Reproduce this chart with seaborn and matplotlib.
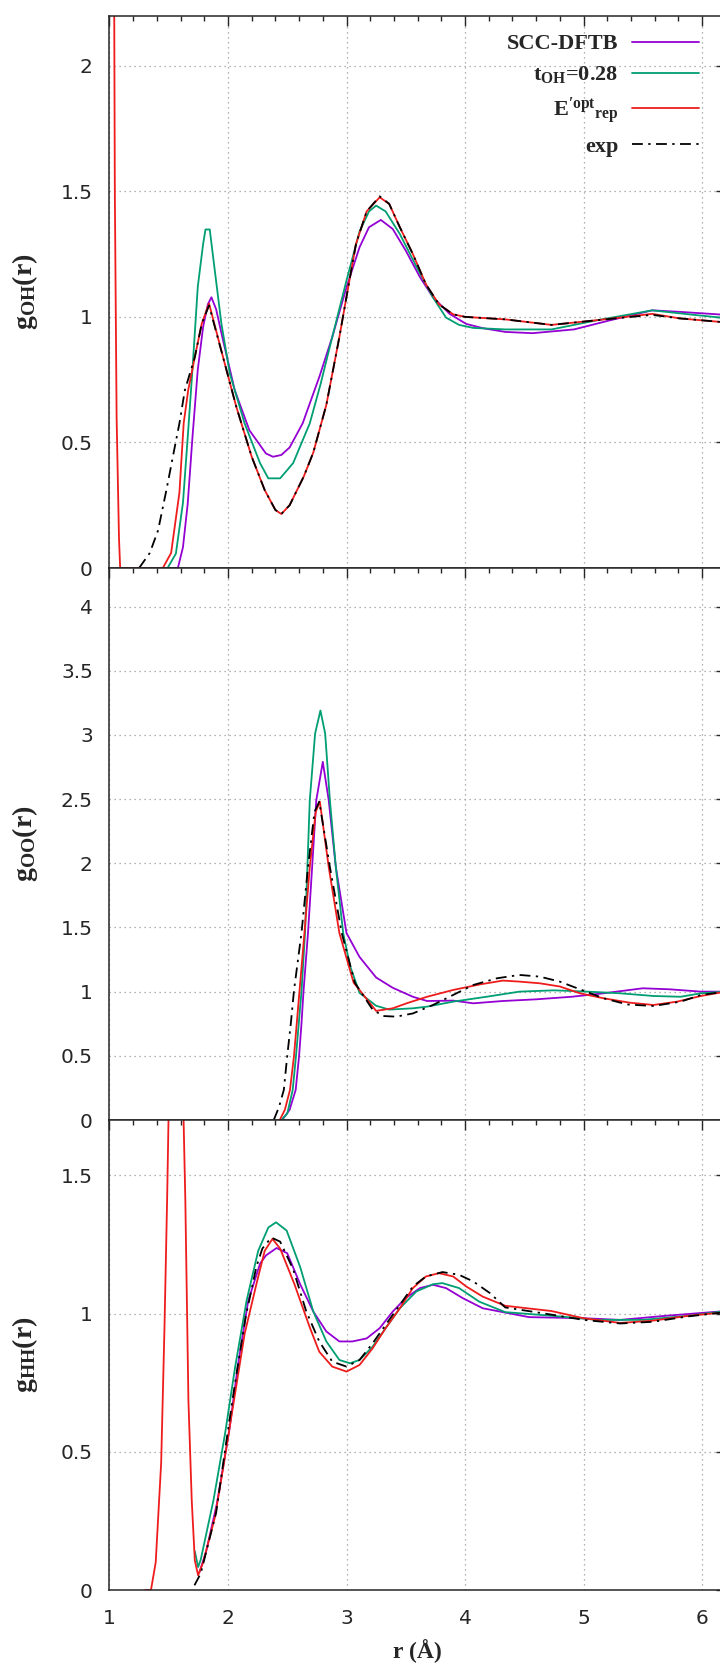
import numpy as np
import seaborn as sns
import matplotlib
matplotlib.use("Agg")
import matplotlib.pyplot as plt
from matplotlib.ticker import MultipleLocator, FuncFormatter

# g_OH(r) curves
oh_r_scc = [1.3, 1.5, 1.577, 1.62, 1.66, 1.70, 1.745, 1.79, 1.83, 1.86, 1.90, 1.958, 2.057, 2.18, 2.32, 2.38, 2.45,
            2.52, 2.63, 2.69, 2.77, 2.88, 3.0, 3.11, 3.19, 3.29, 3.39, 3.5, 3.62, 3.73, 3.87, 4.01, 4.15, 4.34, 4.57,
            4.92, 5.23, 5.58, 5.81, 6.2]
oh_g_scc = [0, 0, 0, .083, .256, .52, .79, .96, 1.05, 1.078, 1.03, .907, .708, .549, .456, .443, .45,
            .48, .576, .655, .76, .92, 1.118, 1.277, 1.357, 1.386, 1.35, 1.264, 1.158, 1.078, 1.012, .972, .955, .94, .935,
            .95, .987, 1.026, 1.02, 1.008]
oh_r_t = [1.3, 1.49, 1.56, 1.62, 1.66, 1.70, 1.745, 1.79, 1.81, 1.846, 1.874, 1.944, 2.015, 2.14, 2.27, 2.34, 2.44,
          2.55, 2.69, 2.78, 2.88, 3.0, 3.11, 3.19, 3.25, 3.33, 3.45, 3.59, 3.73, 3.84, 3.95, 4.07, 4.34, 4.73,
          5.12, 5.58, 5.89, 6.2]
oh_g_t = [0, 0, .057, .26, .52, .79, 1.12, 1.29, 1.348, 1.348, 1.24, .974, .775, .576, .418, .357, .357,
          .418, .576, .73, .92, 1.145, 1.34, 1.42, 1.443, 1.42, 1.33, 1.2, 1.077, .997, .968, .956, .95, .95,
          .987, 1.026, 1.01, .995]
oh_r_opt = [1.02, 1.04, 1.045, 1.06, 1.08, 1.09, 1.45, 1.52, 1.59, 1.626, 1.664, 1.72, 1.779, 1.84, 1.958, 2.07, 2.2,
            2.31, 2.40, 2.45, 2.52, 2.64, 2.72, 2.83, 2.94, 3.0, 3.08, 3.17, 3.28, 3.36, 3.45, 3.56, 3.67, 3.78, 3.9,
            4.0, 4.34, 4.73, 5.12, 5.58, 5.81, 6.2]
oh_g_opt = [3.0, 2.2, 1.5, .6, .12, 0, 0, .06, .3, .576, .708, .84, .974, 1.053, .84, .642, .443,
            .31, .231, .215, .25, .365, .46, .65, .92, 1.08, 1.29, 1.42, 1.476, 1.45, 1.357, 1.25, 1.13, 1.05, 1.01,
            1.0, .99, .968, .987, 1.012, .994, .978]
oh_r_exp = [1.25, 1.34, 1.41, 1.48, 1.55, 1.59, 1.636, 1.72, 1.779, 1.84, 1.958, 2.07, 2.2, 2.31, 2.40, 2.45, 2.52,
            2.64, 2.72, 2.83, 2.94, 3.0, 3.08, 3.17, 3.28, 3.36, 3.45, 3.56, 3.67, 3.78, 3.9, 4.0, 4.34, 4.73, 5.12,
            5.58, 5.81, 6.2]
oh_g_exp = [0, .06, .15, .31, .48, .576, .708, .84, .974, 1.045, .84, .642, .443, .31, .231, .215, .25,
            .365, .46, .65, .92, 1.08, 1.29, 1.42, 1.48, 1.45, 1.357, 1.25, 1.13, 1.05, 1.01, 1.0, .99, .968, .987,
            1.008, .994, .978]

# g_OO(r) curves
oo_r_scc = [2.457, 2.52, 2.571, 2.6, 2.62, 2.637, 2.675, 2.71, 2.745, 2.80, 2.85, 2.91, 3.0, 3.11, 3.25, 3.39, 3.56,
            3.68, 3.90, 4.07, 4.32, 4.6, 4.9, 5.17, 5.5, 5.73, 5.99, 6.2]
oo_g_scc = [0, .08, .234, .5, .75, 1.0, 1.456, 1.97, 2.49, 2.79, 2.49, 1.97, 1.456, 1.27, 1.11, 1.03, .96,
            .927, .93, .909, .927, .94, .96, .987, 1.026, 1.018, 1.0, 1.0]
oo_r_t = [2.45, 2.50, 2.546, 2.574, 2.62, 2.65, 2.69, 2.735, 2.78, 2.82, 2.86, 2.91, 2.972, 3.03, 3.11, 3.25, 3.36,
          3.56, 3.68, 3.90, 4.18, 4.46, 4.75, 5.03, 5.31, 5.59, 5.82, 5.99, 6.2]
oo_g_t = [0, .05, .234, .5, 1.0, 1.456, 2.49, 3.01, 3.19, 3.01, 2.49, 1.97, 1.456, 1.2, .99, .89, .86,
          .87, .883, .922, .96, 1.0, 1.01, 1.0, .987, .966, .96, .987, 1.0]
oo_r_opt = [2.437, 2.48, 2.523, 2.557, 2.58, 2.603, 2.645, 2.69, 2.74, 2.775, 2.85, 2.94, 3.06, 3.25, 3.39, 3.51,
            3.68, 3.90, 4.13, 4.32, 4.46, 4.63, 4.8, 4.97, 5.17, 5.39, 5.59, 5.79, 5.99, 6.2]
oo_g_opt = [0, .08, .234, .5, .75, 1.0, 1.456, 1.97, 2.4, 2.48, 1.97, 1.456, 1.07, .85, .87, .91,
            .96, 1.013, 1.057, 1.086, 1.078, 1.065, 1.04, .987, .948, .914, .896, .922, .966, 1.0]
oo_r_exp = [2.386, 2.43, 2.471, 2.50, 2.53, 2.557, 2.62, 2.675, 2.73, 2.77, 2.86, 2.96, 3.07, 3.22, 3.31, 3.42, 3.56,
            3.73, 3.9, 4.07, 4.27, 4.46, 4.63, 4.8, 4.97, 5.17, 5.37, 5.59, 5.82, 5.99, 6.2]
oo_g_exp = [0, .1, .234, .5, .75, 1.01, 1.456, 1.97, 2.4, 2.48, 1.97, 1.456, 1.07, .86, .81, .805, .83,
            .896, .974, 1.052, 1.104, 1.13, 1.117, 1.078, 1.018, .948, .90, .888, .922, .974, 1.0]

# g_HH(r) curves
hh_r_scc = [1.76, 1.816, 1.905, 2.01, 2.085, 2.17, 2.27, 2.32, 2.41, 2.50, 2.61, 2.72, 2.83, 2.94, 3.05, 3.17, 3.28,
            3.39, 3.50, 3.62, 3.73, 3.84, 3.98, 4.15, 4.54, 5.0, 5.31, 5.7, 6.2]
hh_g_scc = [.065, .14, .31, .575, .816, 1.045, 1.18, 1.21, 1.237, 1.218, 1.105, 1.007, .935, .899, .899, .91, .947,
            1.007, 1.056, 1.092, 1.104, 1.092, 1.056, 1.019, .987, .983, .977, .992, 1.009]
hh_r_t = [1.72, 1.748, 1.77, 1.877, 1.975, 2.06, 2.157, 2.255, 2.34, 2.405, 2.495, 2.61, 2.72, 2.83, 2.94, 3.03, 3.11,
          3.22, 3.33, 3.45, 3.59, 3.73, 3.81, 3.95, 4.12, 4.34, 4.73, 5.12, 5.5, 5.89, 6.2]
hh_g_t = [.14, .083, .11, .324, .565, .806, 1.047, 1.227, 1.311, 1.33, 1.30, 1.167, 1.007, .899, .832, .82, .832,
          .88, .947, 1.019, 1.08, 1.106, 1.11, 1.092, 1.043, 1.005, .992, .977, .977, .992, 1.009]
hh_r_opt = [1.30, 1.35, 1.39, 1.436, 1.464, 1.487, 1.51, 1.56, 1.61, 1.64, 1.666, 1.694, 1.72, 1.748, 1.79, 1.89,
            1.96, 2.05, 2.14, 2.24, 2.31, 2.375, 2.44, 2.56, 2.69, 2.77, 2.88, 3.0, 3.11, 3.22, 3.33, 3.45, 3.56,
            3.67, 3.78, 3.90, 4.01, 4.15, 4.34, 4.73, 5.0, 5.31, 5.58, 5.89, 6.2]
hh_g_opt = [0, 0, .10, .46, .95, 1.43, 2.0, 2.6, 2.0, 1.408, .685, .324, .107, .053, .10, .264,
            .444, .685, .926, 1.107, 1.227, 1.27, 1.235, 1.107, .95, .862, .808, .79, .814, .874, .947, 1.019, 1.092,
            1.134, 1.146, 1.134, 1.098, 1.061, 1.028, 1.009, .983, .966, .974, .992, 1.005]
hh_r_exp = [1.717, 1.77, 1.90, 1.98, 2.06, 2.15, 2.24, 2.29, 2.365, 2.44, 2.55, 2.66, 2.77, 2.88, 3.0, 3.11, 3.22,
            3.33, 3.45, 3.56, 3.67, 3.81, 3.95, 4.07, 4.21, 4.34, 4.73, 5.0, 5.31, 5.58, 5.89, 6.2]
hh_g_exp = [.017, .06, .28, .52, .75, .99, 1.17, 1.235, 1.275, 1.26, 1.16, 1.008, .899, .826, .808, .832, .892,
            .959, 1.031, 1.098, 1.134, 1.15, 1.14, 1.116, 1.074, 1.022, .996, .977, .964, .97, .99, 1.005]

labels = ["SCC-DFTB", r"t$_\mathbf{OH}$=0.28", r"E$^\mathbf{\prime opt}{}_\mathbf{rep}$", "exp"]
colors = ["#9400d3", "#009e73", "#ee1c1c", "black"]
ylabels = [r"$\mathbf{g_{OH}(r)}$", r"$\mathbf{g_{OO}(r)}$", r"$\mathbf{g_{HH}(r)}$"]
ylims = [2.2, 4.3, 1.7]

panels = [
    [(oh_r_scc, oh_g_scc), (oh_r_t, oh_g_t), (oh_r_opt, oh_g_opt), (oh_r_exp, oh_g_exp)],
    [(oo_r_scc, oo_g_scc), (oo_r_t, oo_g_t), (oo_r_opt, oo_g_opt), (oo_r_exp, oo_g_exp)],
    [(hh_r_scc, hh_g_scc), (hh_r_t, hh_g_t), (hh_r_opt, hh_g_opt), (hh_r_exp, hh_g_exp)],
]

sns.set_style("white")
plt.rcParams['font.family'] = ['DejaVu Sans']
plt.rcParams['mathtext.fontset'] = 'custom'
plt.rcParams['mathtext.rm'] = 'Liberation Serif'
plt.rcParams['mathtext.bf'] = 'Liberation Serif:bold'
plt.rcParams['mathtext.it'] = 'Liberation Serif:italic'

fig = plt.figure(figsize=(7.2, 16.68), dpi=100)
W, H = 720.0, 1668.0
left, right = 109.5, 725.7
edges = [15.5, 568, 1120, 1590]

axes = []
for i in range(3):
    ax = fig.add_axes([left / W, 1 - edges[i + 1] / H, (right - left) / W, (edges[i + 1] - edges[i]) / H])
    axes.append(ax)
    for j, (r, g) in enumerate(panels[i]):
        sns.lineplot(x=r, y=g, ax=ax, color=colors[j], lw=1.3, estimator=None, sort=False,
                     label=labels[j] if i == 0 else None, legend=False)
    ax.lines[-1].set_linestyle((0, (6, 3, 1.3, 3)))
    ax.set_xlim(1, 6.2)
    ax.set_ylim(0, ylims[i])
    ax.xaxis.set_major_locator(MultipleLocator(1))
    ax.xaxis.set_minor_locator(MultipleLocator(0.2))
    ax.yaxis.set_major_locator(MultipleLocator(0.5))
    ax.yaxis.set_minor_locator(MultipleLocator(0.1))
    ax.yaxis.set_major_formatter(FuncFormatter(lambda v, p: "%g" % v))
    ax.xaxis.set_major_formatter(FuncFormatter(lambda v, p: "%g" % v))
    ax.tick_params(which='both', direction='in', top=True, right=True, labelsize=14.5, pad=12)
    ax.tick_params(which='major', length=7, width=1)
    ax.tick_params(which='minor', length=3.5, width=1)
    ax.grid(True, which='major', linestyle=(0, (1, 3)), color='#9a9a9a', lw=0.9)
    for s in ax.spines.values():
        s.set_linewidth(1.1)
    ax.set_ylabel(ylabels[i], fontsize=20)
    ax.yaxis.set_label_coords(-0.113, 0.5)
    ax.set_xlabel("")
    if i < 2:
        ax.tick_params(axis='x', labelbottom=False)

axes[2].tick_params(axis='x', pad=14)
axes[2].set_xlabel("r (Å)", family='Liberation Serif', weight='bold', fontsize=17)
axes[2].xaxis.set_label_coords(0.5, -0.104)

leg = axes[0].legend(loc='upper right', bbox_to_anchor=(0.956, 0.967), frameon=False, markerfirst=False,
                     prop={'family': 'Liberation Serif', 'weight': 'bold', 'size': 16},
                     handlelength=3.0, handletextpad=0.62, labelspacing=0.45, borderpad=0, borderaxespad=0)

fig.savefig("out.png", dpi=100)
